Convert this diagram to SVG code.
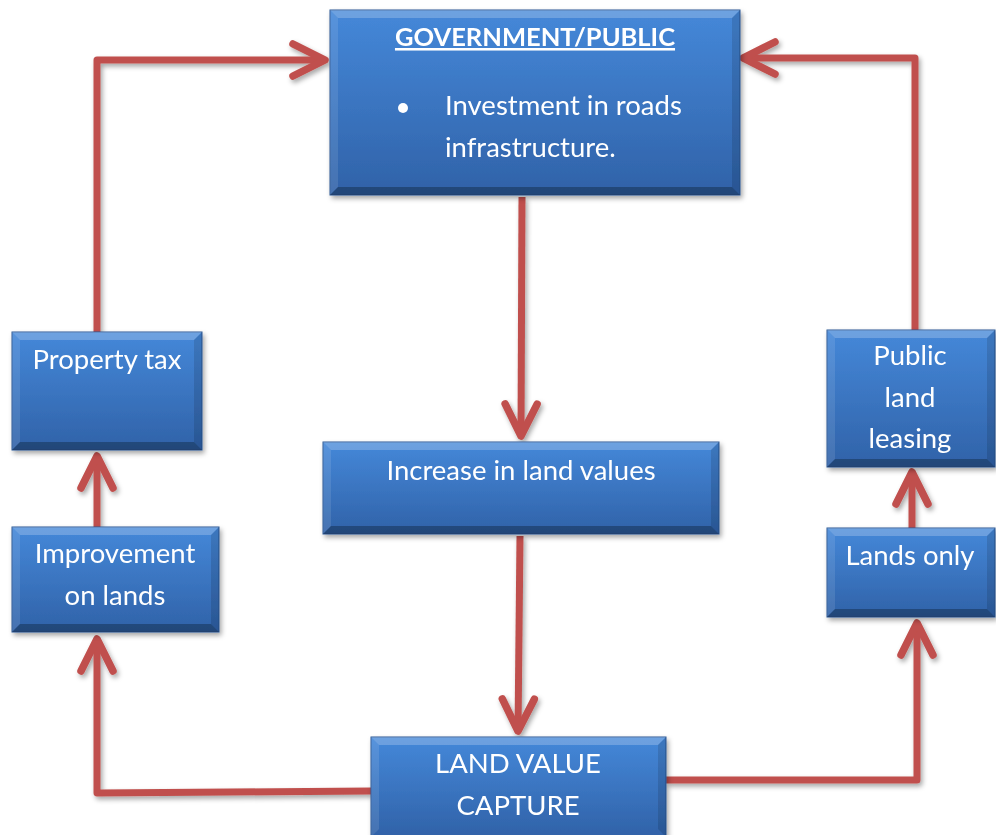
<svg xmlns="http://www.w3.org/2000/svg" width="996" height="835" viewBox="0 0 996 835">
<style>
.bx{fill:url(#g);stroke:#2A5693;stroke-width:1}
.bt{fill:#ffffff;fill-opacity:0.22}
.bl{fill:#ffffff;fill-opacity:0.1}
.br{fill:#000000;fill-opacity:0.12}
.bb{fill:#000000;fill-opacity:0.28}
.t{font-family:Lato,"Liberation Sans",sans-serif;font-size:27.5px;fill:#ffffff;text-anchor:middle}
.h{font-weight:bold;text-decoration:underline;font-size:25.5px}
.c{fill:none;stroke:#C0504D;stroke-width:7;stroke-linejoin:round;marker-end:url(#arr)}
</style>
<defs>
<linearGradient id="g" x1="0" y1="0" x2="0" y2="1">
<stop offset="0" stop-color="#4588D9"/>
<stop offset="1" stop-color="#3062A8"/>
</linearGradient>
<filter id="sh" x="-10%" y="-10%" width="130%" height="130%">
<feDropShadow dx="2" dy="3" stdDeviation="2.5" flood-color="#000" flood-opacity="0.35"/>
</filter>
<marker id="arr" markerUnits="userSpaceOnUse" markerWidth="80" markerHeight="80" viewBox="-40 -40 80 80" refX="0" refY="0" orient="auto" overflow="visible">
<path d="M-32,-16 L0,0 L-32,16" fill="none" stroke="#C0504D" stroke-width="7.5" stroke-linecap="round" stroke-linejoin="round"/>
</marker>
</defs>
<rect width="996" height="835" fill="#ffffff"/>
<g id="connectors" filter="url(#sh)">
<path class="c" d="M97,332 L97,60 L325,60"/>
<path class="c" d="M915,332 L915,58 L743,58"/>
<path class="c" d="M522,197 L521,436"/>
<path class="c" d="M520,536 L518,731"/>
<path class="c" d="M371,791 L97,793 L97,639"/>
<path class="c" d="M666,780 L917,780 L917,623"/>
<path class="c" d="M97,527 L97,456"/>
<path class="c" d="M912,528 L912,472"/>
</g>
<g id="government" filter="url(#sh)">
<rect class="bx" x="330" y="10" width="410" height="185"/>
<polygon class="bt" points="330,10 740,10 732,18 338,18"/>
<polygon class="bl" points="330,10 338,18 338,187 330,195"/>
<polygon class="br" points="740,10 740,195 732,187 732,18"/>
<polygon class="bb" points="330,195 740,195 732,187 338,187"/>
<text class="t h" x="535" y="46">GOVERNMENT/PUBLIC</text>
<circle cx="403" cy="108" r="5" fill="#ffffff"/>
<text class="t" x="445" y="115" style="text-anchor:start">Investment in roads</text>
<text class="t" x="445" y="157" style="text-anchor:start">infrastructure.</text>
</g>
<g id="property-tax" filter="url(#sh)">
<rect class="bx" x="12" y="332" width="190" height="118"/>
<polygon class="bt" points="12,332 202,332 194,340 20,340"/>
<polygon class="bl" points="12,332 20,340 20,442 12,450"/>
<polygon class="br" points="202,332 202,450 194,442 194,340"/>
<polygon class="bb" points="12,450 202,450 194,442 20,442"/>
<text class="t" x="107" y="369">Property tax</text>
</g>
<g id="improvement" filter="url(#sh)">
<rect class="bx" x="12" y="527" width="207" height="105"/>
<polygon class="bt" points="12,527 219,527 211,535 20,535"/>
<polygon class="bl" points="12,527 20,535 20,624 12,632"/>
<polygon class="br" points="219,527 219,632 211,624 211,535"/>
<polygon class="bb" points="12,632 219,632 211,624 20,624"/>
<text class="t" x="115" y="563">Improvement</text>
<text class="t" x="115" y="605">on lands</text>
</g>
<g id="increase" filter="url(#sh)">
<rect class="bx" x="323" y="442" width="396" height="92"/>
<polygon class="bt" points="323,442 719,442 711,450 331,450"/>
<polygon class="bl" points="323,442 331,450 331,526 323,534"/>
<polygon class="br" points="719,442 719,534 711,526 711,450"/>
<polygon class="bb" points="323,534 719,534 711,526 331,526"/>
<text class="t" x="521" y="480">Increase in land values</text>
</g>
<g id="public-leasing" filter="url(#sh)">
<rect class="bx" x="827" y="330" width="168" height="137"/>
<polygon class="bt" points="827,330 995,330 987,338 835,338"/>
<polygon class="bl" points="827,330 835,338 835,459 827,467"/>
<polygon class="br" points="995,330 995,467 987,459 987,338"/>
<polygon class="bb" points="827,467 995,467 987,459 835,459"/>
<text class="t" x="910" y="365">Public</text>
<text class="t" x="910" y="407">land</text>
<text class="t" x="910" y="448">leasing</text>
</g>
<g id="lands-only" filter="url(#sh)">
<rect class="bx" x="827" y="528" width="168" height="89"/>
<polygon class="bt" points="827,528 995,528 987,536 835,536"/>
<polygon class="bl" points="827,528 835,536 835,609 827,617"/>
<polygon class="br" points="995,528 995,617 987,609 987,536"/>
<polygon class="bb" points="827,617 995,617 987,609 835,609"/>
<text class="t" x="910" y="565">Lands only</text>
</g>
<g id="land-value-capture" filter="url(#sh)">
<rect class="bx" x="371" y="737" width="295" height="100"/>
<polygon class="bt" points="371,737 666,737 658,745 379,745"/>
<polygon class="bl" points="371,737 379,745 379,829 371,837"/>
<polygon class="br" points="666,737 666,837 658,829 658,745"/>
<text class="t" x="518" y="773">LAND VALUE</text>
<text class="t" x="518" y="815">CAPTURE</text>
</g>
</svg>
